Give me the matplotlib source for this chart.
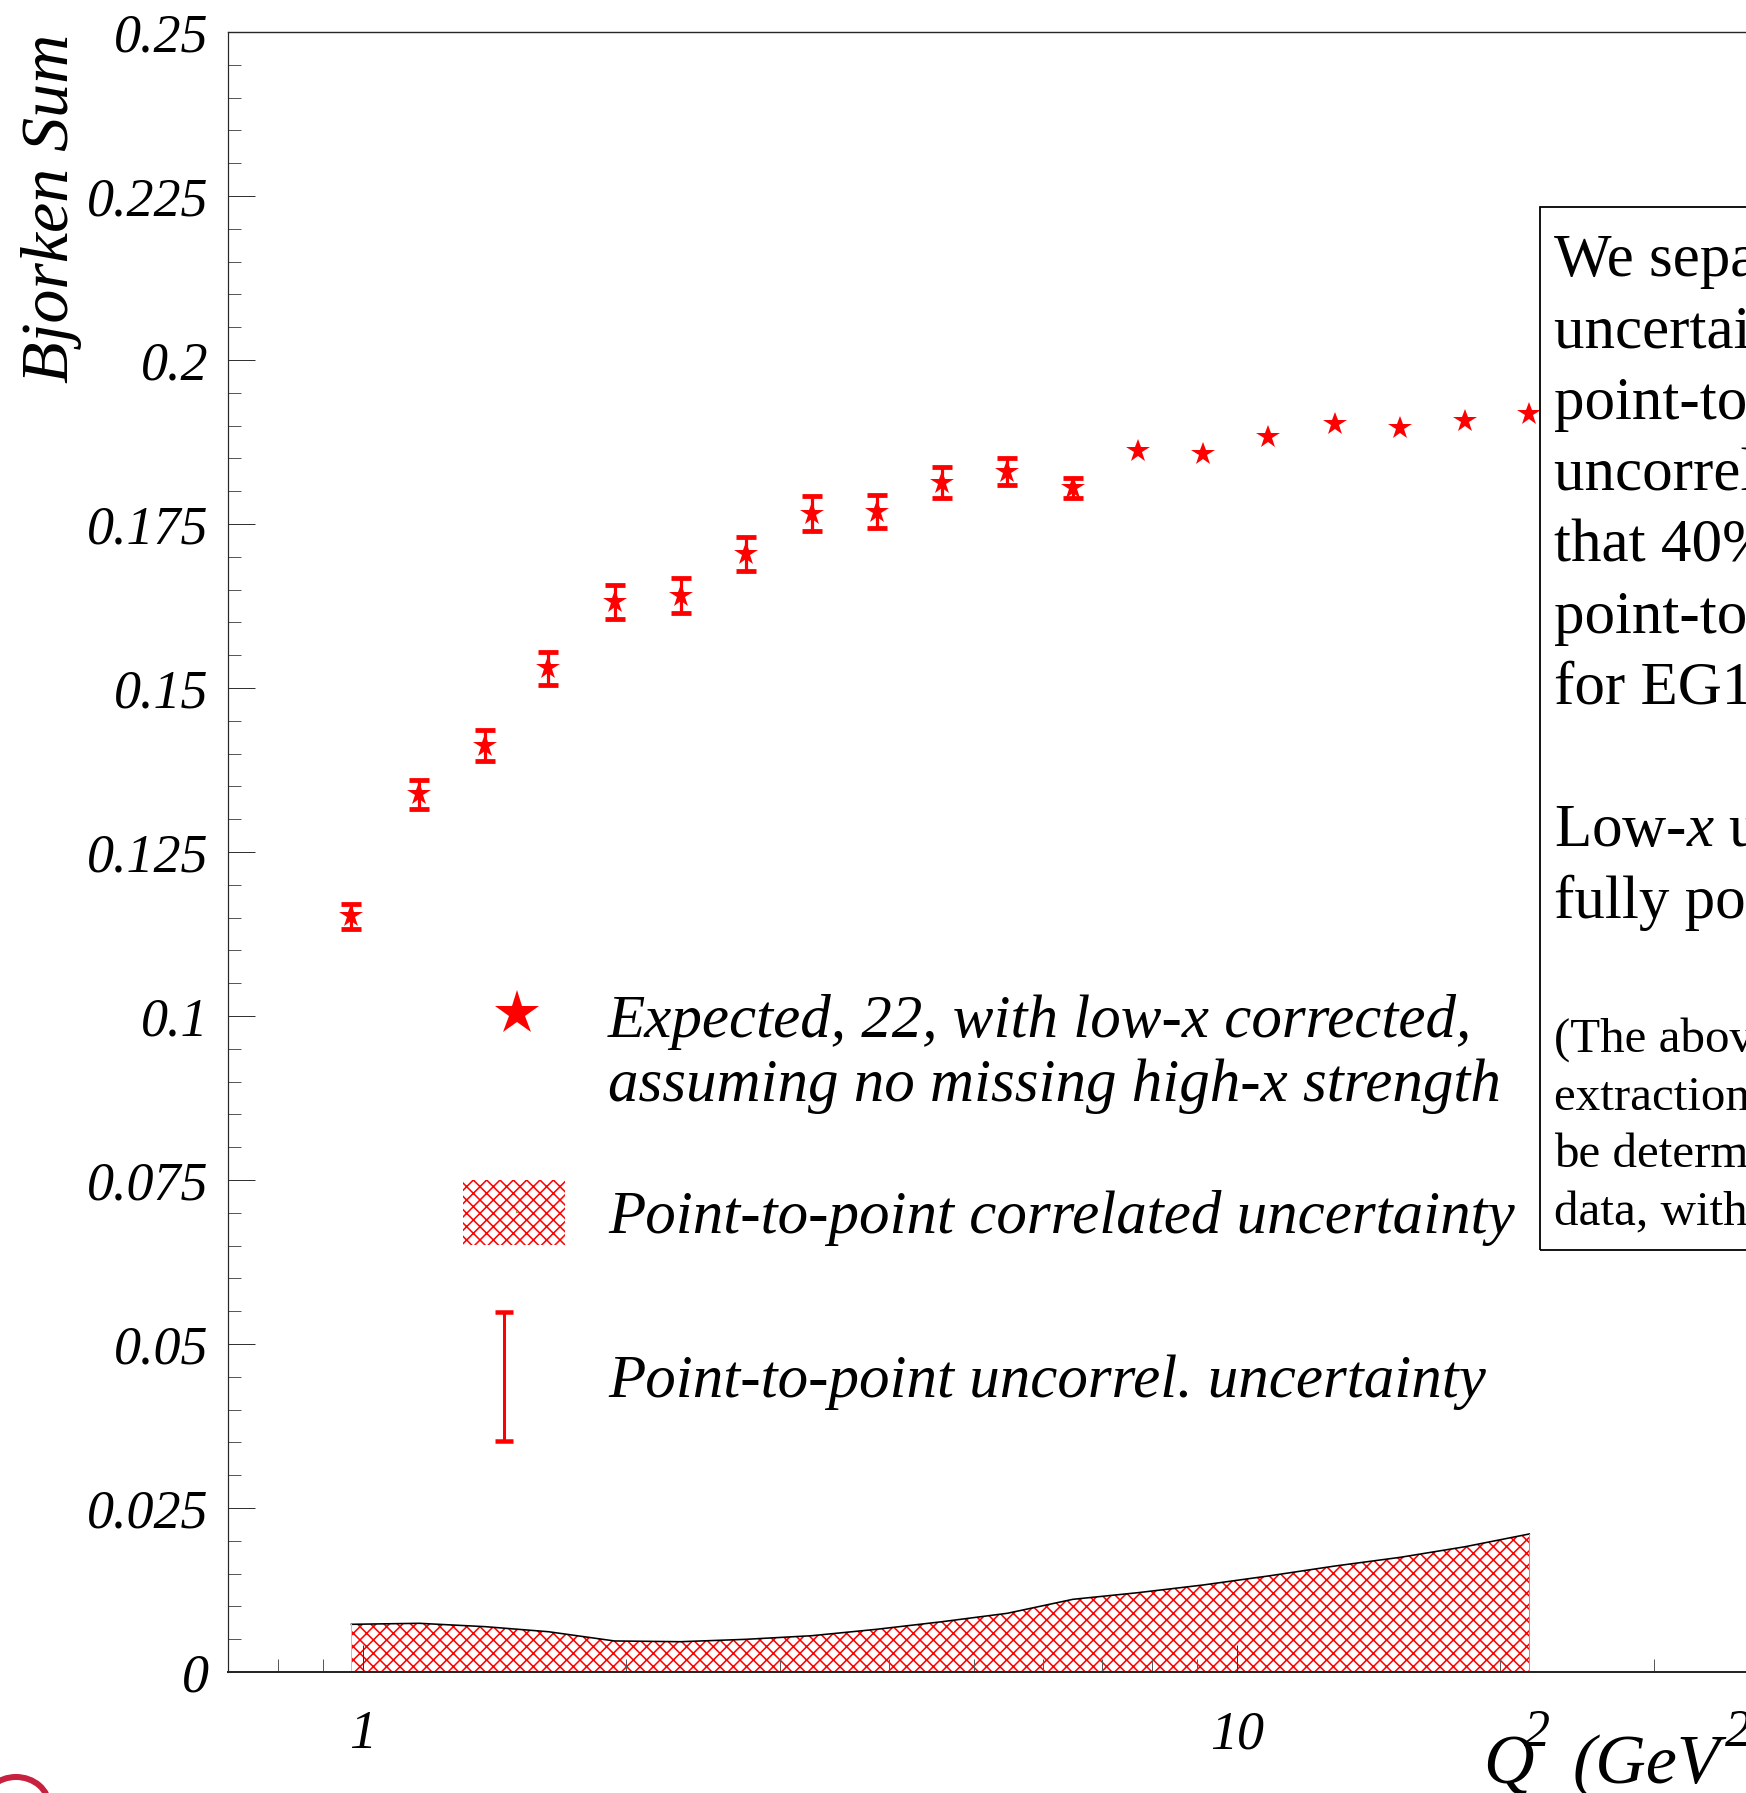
import matplotlib
matplotlib.use('Agg')
import matplotlib.pyplot as plt
import numpy as np
from matplotlib.lines import Line2D
from matplotlib.patches import Rectangle, Arc
from matplotlib.ticker import FixedLocator, MultipleLocator, NullFormatter, FixedFormatter
from matplotlib.transforms import IdentityTransform

# ---------------- data ----------------
q2 = [0.97, 1.16, 1.38, 1.63, 1.94, 2.31, 2.74, 3.26, 3.87, 4.60,
      5.46, 6.49, 7.70, 9.14, 10.85, 12.95, 15.37, 18.24, 21.6]
bj_sum = [0.1152, 0.1338, 0.1412, 0.1530, 0.1631, 0.1641, 0.1704, 0.1766,
          0.1769, 0.1813, 0.1830, 0.1805, 0.1862, 0.1857, 0.1882, 0.1902,
          0.1897, 0.1907, 0.1918]
err_uncorr = [0.0019, 0.0022, 0.0024, 0.0025, 0.0026, 0.0027, 0.0026, 0.0027,
              0.0025, 0.0024, 0.0020, 0.0015, 0, 0, 0, 0, 0, 0, 0]
err_corr = [0.00727, 0.00742, 0.00691, 0.00614, 0.00473, 0.00462, 0.00498,
            0.00553, 0.00651, 0.00767, 0.00895, 0.01108, 0.01209, 0.01326,
            0.01463, 0.01616, 0.01748, 0.01910, 0.02104]

xticks = [1, 10]
xtick_labels = ['1', '10']
yticks = [0, 0.025, 0.05, 0.075, 0.1, 0.125, 0.15, 0.175, 0.2, 0.225, 0.25]
ytick_labels = ['0', '0.025', '0.05', '0.075', '0.1', '0.125', '0.15',
                '0.175', '0.2', '0.225', '0.25']

legend_labels = ["Expected, 22, with low-x corrected,",
                 "assuming no missing high-x strength",
                 "Point-to-point correlated uncertainty",
                 "Point-to-point uncorrel. uncertainty"]

box_lines = ["We separate the systematic",
             "uncertainties into",
             "point-to-point correlated and",
             "uncorrelated. We assume",
             "that 40% of the systematics is",
             "point-to-point uncorrelated",
             "for EG1b.",
             "",
             "Low-$x$ uncertainty is",
             "fully point-to-point correlated."]
box_small = ["(The above is only an estimate. The",
             "extraction of the uncertainties will",
             "be determined from the actual",
             "data, without assumptions.)"]

# ---------------- style ----------------
plt.rcParams['font.family'] = ['Liberation Serif', 'DejaVu Serif']
plt.rcParams['mathtext.fontset'] = 'custom'
plt.rcParams['mathtext.rm'] = 'Liberation Serif'
plt.rcParams['mathtext.it'] = 'Liberation Serif:italic'
plt.rcParams['hatch.linewidth'] = 1.4

W, H, DPI = 1746, 1793, 80
PT = 72.0 / DPI  # points per pixel

fig = plt.figure(figsize=(W / DPI, H / DPI), dpi=DPI)

# axes geometry (pixels)
x_one_px, decade_px = 363.0, 874.0
xmin, xmax = 0.7, 50.0
left_px = x_one_px + np.log10(xmin) * decade_px
right_px = x_one_px + np.log10(xmax) * decade_px
top_px, bot_px = 32.0, 1672.0
ax = fig.add_axes([left_px / W, 1 - bot_px / H,
                   (right_px - left_px) / W, (bot_px - top_px) / H])
ax.set_xscale('log')
ax.set_xlim(xmin, xmax)
ax.set_ylim(0, 0.25)


def fx(xp):
    return xp / W


def fy(yp):
    return 1 - yp / H


# correlated uncertainty band
ax.fill_between(q2, 0, err_corr, facecolor='none', edgecolor='red',
                hatch='xx', linewidth=0, zorder=1)
ax.plot(q2, err_corr, color='black', lw=1.6 * PT, zorder=2)
ax.plot([q2[-1], q2[-1]], [0, err_corr[-1]], color='0.6', lw=1.0 * PT, zorder=2)
ax.plot([q2[0], q2[0]], [0, err_corr[0]], color='0.75', lw=1.0 * PT, zorder=2)

# uncorrelated error bars + points
q2a = np.array(q2)
bja = np.array(bj_sum)
eua = np.array(err_uncorr)
m = eua > 0
ax.errorbar(q2a[m], bja[m], yerr=eua[m], fmt='none', ecolor='red',
            elinewidth=3.2 * PT, capsize=10 * PT, capthick=4.8 * PT, zorder=3)
ax.plot(q2, bj_sum, ls='none', marker='*', ms=24.2 * PT, color='red',
        mew=0, zorder=4)

# ticks
ax.xaxis.set_major_locator(FixedLocator(xticks))
ax.xaxis.set_major_formatter(FixedFormatter(xtick_labels))
ax.xaxis.set_minor_formatter(NullFormatter())
ax.yaxis.set_major_locator(FixedLocator(yticks))
ax.yaxis.set_major_formatter(FixedFormatter(ytick_labels))
ax.yaxis.set_minor_locator(MultipleLocator(0.005))
ax.tick_params(which='both', direction='in', top=False, right=False)
ax.tick_params(which='major', length=27 * PT, width=1.0 * PT, color='0.2')
ax.tick_params(which='minor', length=13 * PT, width=1.0 * PT, color='0.35')
ax.tick_params(axis='y', which='major', pad=19 * PT)
ax.tick_params(axis='x', which='major', pad=38 * PT)
for lab in ax.get_xticklabels() + ax.get_yticklabels():
    lab.set_fontstyle('italic')
    lab.set_fontsize(54 * PT)

ax.spines['bottom'].set_linewidth(2.0 * PT)
ax.spines['left'].set_linewidth(1.2 * PT)
ax.spines['top'].set_linewidth(1.4 * PT)
ax.spines['right'].set_linewidth(1.2 * PT)
for s in ax.spines.values():
    s.set_color('0.15')

# axis titles
fig.text(fx(52), fy(34), 'Bjorken Sum', rotation=90, ha='center', va='top',
         fontsize=68 * PT, style='italic')

# x title "Q^2 (GeV^2)" built from pieces to mimic ROOT superscripts
xlab_parts = [('Q', 70, 1483, 1783), ('2', 52, 1524, 1746),
              ('(GeV', 70, 1573, 1783), ('2', 52, 1725, 1746),
              (')', 70, 1752, 1783)]
for s, size_px, xp, yp in xlab_parts:
    fig.text(fx(xp), fy(yp), s, ha='left', va='baseline',
             fontsize=size_px * PT, style='italic')

# legend
fig.add_artist(Line2D([fx(517)], [fy(1013)], marker='*', ls='none',
                      ms=46 * PT, color='red', mew=0,
                      transform=fig.transFigure))
fig.add_artist(Rectangle((fx(463), fy(1245)), (565 - 463) / W, (1245 - 1180) / H,
                         transform=fig.transFigure, facecolor='none',
                         edgecolor='red', hatch='xx', lw=0))
fig.add_artist(Line2D([fx(517)], [fy(1212)], marker='s', ls='none',
                      ms=2 * PT, color='#33cc33', mew=0,
                      transform=fig.transFigure))
fig.add_artist(Line2D([fx(504), fx(504)], [fy(1312), fy(1441)], color='red',
                      lw=3 * PT, transform=fig.transFigure))
for yy in (1312, 1441):
    fig.add_artist(Line2D([fx(495), fx(513)], [fy(yy), fy(yy)], color='red',
                          lw=4.5 * PT, transform=fig.transFigure,
                          solid_capstyle='butt'))
for txt, yb in zip(legend_labels, [1037, 1101, 1233, 1397]):
    fig.text(fx(608), fy(yb), txt, ha='left', va='baseline',
             fontsize=61 * PT, style='italic')

# text box
fig.add_artist(Rectangle((fx(1540), fy(1250)), (1990 - 1540) / W,
                         (1250 - 207) / H, transform=fig.transFigure,
                         fill=False, lw=1.8 * PT, ec='black'))
yb = 276
for line in box_lines:
    if line:
        fig.text(fx(1554), fy(yb), line, ha='left', va='baseline',
                 fontsize=61 * PT)
    yb += 71.3
yb = 1052
for line in box_small:
    fig.text(fx(1554), fy(yb), line, ha='left', va='baseline',
             fontsize=49 * PT)
    yb += 57.7

# logo fragment at lower left corner
fig.add_artist(Arc((16, H - 1806), 66, 58, theta1=0, theta2=180,
                   transform=IdentityTransform(), color='#c8203f',
                   lw=6 * PT))

fig.savefig('out.png', dpi=DPI)
